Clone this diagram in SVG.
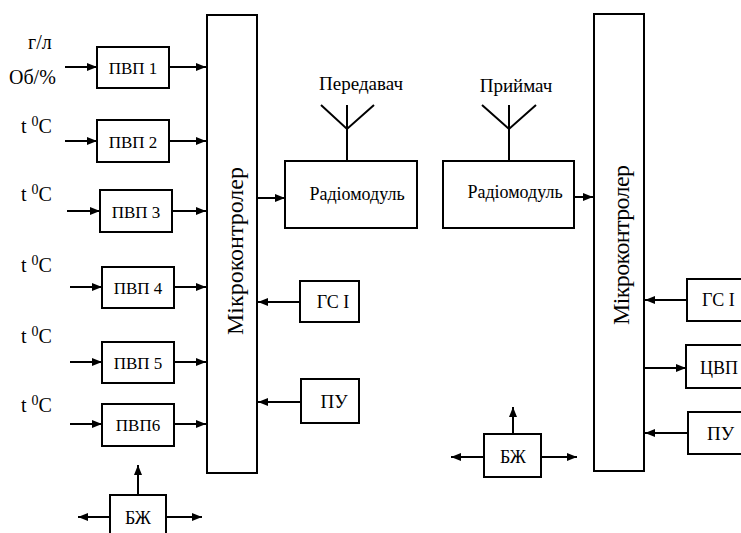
<svg xmlns="http://www.w3.org/2000/svg" width="741" height="533" viewBox="0 0 741 533">
<defs>
<marker id="ah" markerUnits="userSpaceOnUse" markerWidth="10" markerHeight="8" refX="10" refY="4" orient="auto">
<path d="M0,0 L10,4 L0,8 z" fill="#000"/>
</marker>
</defs>
<rect width="741" height="533" fill="#fff"/>
<g id="labels" font-family="Times New Roman, Liberation Serif, serif">
<text font-size="20" x="28" y="49">г/л</text>
<text font-size="20" x="9" y="84">Об/%</text>
<text font-size="20" x="21" y="133">t <tspan font-size="14" dy="-7">0</tspan><tspan dy="7">C</tspan></text>
<text font-size="20" x="21" y="201">t <tspan font-size="14" dy="-7">0</tspan><tspan dy="7">C</tspan></text>
<text font-size="20" x="21" y="272">t <tspan font-size="14" dy="-7">0</tspan><tspan dy="7">C</tspan></text>
<text font-size="20" x="21" y="343">t <tspan font-size="14" dy="-7">0</tspan><tspan dy="7">C</tspan></text>
<text font-size="20" x="21" y="412">t <tspan font-size="14" dy="-7">0</tspan><tspan dy="7">C</tspan></text>
<text font-size="19" text-anchor="middle" x="361" y="90">Передавач</text>
<text font-size="19" text-anchor="middle" x="516" y="92">Приймач</text>
</g>

<g id="connectors" fill="none" stroke="#000" stroke-width="2">
<g marker-end="url(#ah)">
<line x1="65" y1="67" x2="97" y2="67"/>
<line x1="169" y1="67" x2="206" y2="67"/>
<line x1="65" y1="141" x2="97" y2="141"/>
<line x1="169" y1="141" x2="206" y2="141"/>
<line x1="67" y1="211" x2="100" y2="211"/>
<line x1="172" y1="211" x2="206" y2="211"/>
<line x1="70" y1="287" x2="102" y2="287"/>
<line x1="174" y1="287" x2="206" y2="287"/>
<line x1="70" y1="362" x2="102" y2="362"/>
<line x1="174" y1="362" x2="206" y2="362"/>
<line x1="70" y1="424" x2="102" y2="424"/>
<line x1="174" y1="424" x2="206" y2="424"/>
<line x1="138" y1="495" x2="138" y2="465"/>
<line x1="110" y1="517" x2="78" y2="517"/>
<line x1="166" y1="517" x2="202" y2="517"/>
<line x1="257" y1="198" x2="285" y2="198"/>
<line x1="300" y1="302" x2="258" y2="302"/>
<line x1="301" y1="402" x2="258" y2="402"/>
<line x1="573" y1="197" x2="593" y2="197"/>
<line x1="687" y1="300" x2="645" y2="300"/>
<line x1="644" y1="368" x2="686" y2="368"/>
<line x1="688" y1="433" x2="645" y2="433"/>
<line x1="513" y1="434" x2="513" y2="407"/>
<line x1="484" y1="457" x2="451" y2="457"/>
<line x1="541" y1="457" x2="577" y2="457"/>
</g>
<polyline points="321,105 347,129 374,105"/>
<line x1="347" y1="105" x2="347" y2="161"/>
<polyline points="482,105 509,129 536,105"/>
<line x1="509" y1="105" x2="509" y2="161"/>
</g>

<g fill="#fff" stroke="#000" stroke-width="2">
<g id="pvp1"><rect x="97" y="47" width="72" height="41"/></g>
<g id="pvp2"><rect x="97" y="120" width="72" height="42"/></g>
<g id="pvp3"><rect x="100" y="190" width="72" height="42"/></g>
<g id="pvp4"><rect x="102" y="267" width="72" height="41"/></g>
<g id="pvp5"><rect x="102" y="342" width="72" height="41"/></g>
<g id="pvp6"><rect x="102" y="404" width="72" height="42"/></g>
<g id="bzh1"><rect x="110" y="495" width="56" height="42"/></g>
<g id="mc1"><rect x="207" y="15" width="50" height="458"/></g>
<g id="radio1"><rect x="285" y="161" width="132" height="67"/></g>
<g id="gsi1"><rect x="300" y="281" width="59" height="41"/></g>
<g id="pu1"><rect x="301" y="379" width="58" height="44"/></g>
<g id="radio2"><rect x="443" y="161" width="131" height="67"/></g>
<g id="mc2"><rect x="594" y="14" width="50" height="457"/></g>
<g id="gsi2"><rect x="687" y="279" width="60" height="42"/></g>
<g id="cvp"><rect x="686" y="345" width="60" height="43"/></g>
<g id="pu2"><rect x="688" y="412" width="60" height="42"/></g>
<g id="bzh2"><rect x="484" y="434" width="57" height="43"/></g>
</g>

<g id="node-labels" font-family="Times New Roman, Liberation Serif, serif">
<text font-size="17" text-anchor="middle" x="133" y="74">ПВП 1</text>
<text font-size="17" text-anchor="middle" x="133" y="148">ПВП 2</text>
<text font-size="17" text-anchor="middle" x="136" y="218">ПВП 3</text>
<text font-size="17" text-anchor="middle" x="138" y="294">ПВП 4</text>
<text font-size="17" text-anchor="middle" x="138" y="369">ПВП 5</text>
<text font-size="17" text-anchor="middle" x="138" y="431">ПВП6</text>
<text font-size="18" text-anchor="middle" x="138" y="524">БЖ</text>
<text font-size="24" text-anchor="middle" transform="translate(243,251) rotate(-90)" textLength="168" lengthAdjust="spacing">Мікроконтролер</text>
<text font-size="18" text-anchor="middle" x="357" y="200">Радіомодуль</text>
<text font-size="18" text-anchor="middle" x="333" y="308">ГС І</text>
<text font-size="19" text-anchor="middle" x="334" y="408">ПУ</text>
<text font-size="18" text-anchor="middle" x="515" y="198">Радіомодуль</text>
<text font-size="24" text-anchor="middle" transform="translate(629,245) rotate(-90)" textLength="160" lengthAdjust="spacing">Мікроконтролер</text>
<text font-size="18" text-anchor="start" x="702" y="306">ГС І</text>
<text font-size="18" text-anchor="start" x="700" y="374">ЦВП</text>
<text font-size="19" text-anchor="start" x="707" y="440">ПУ</text>
<text font-size="18" text-anchor="middle" x="513" y="463">БЖ</text>
</g>
</svg>
